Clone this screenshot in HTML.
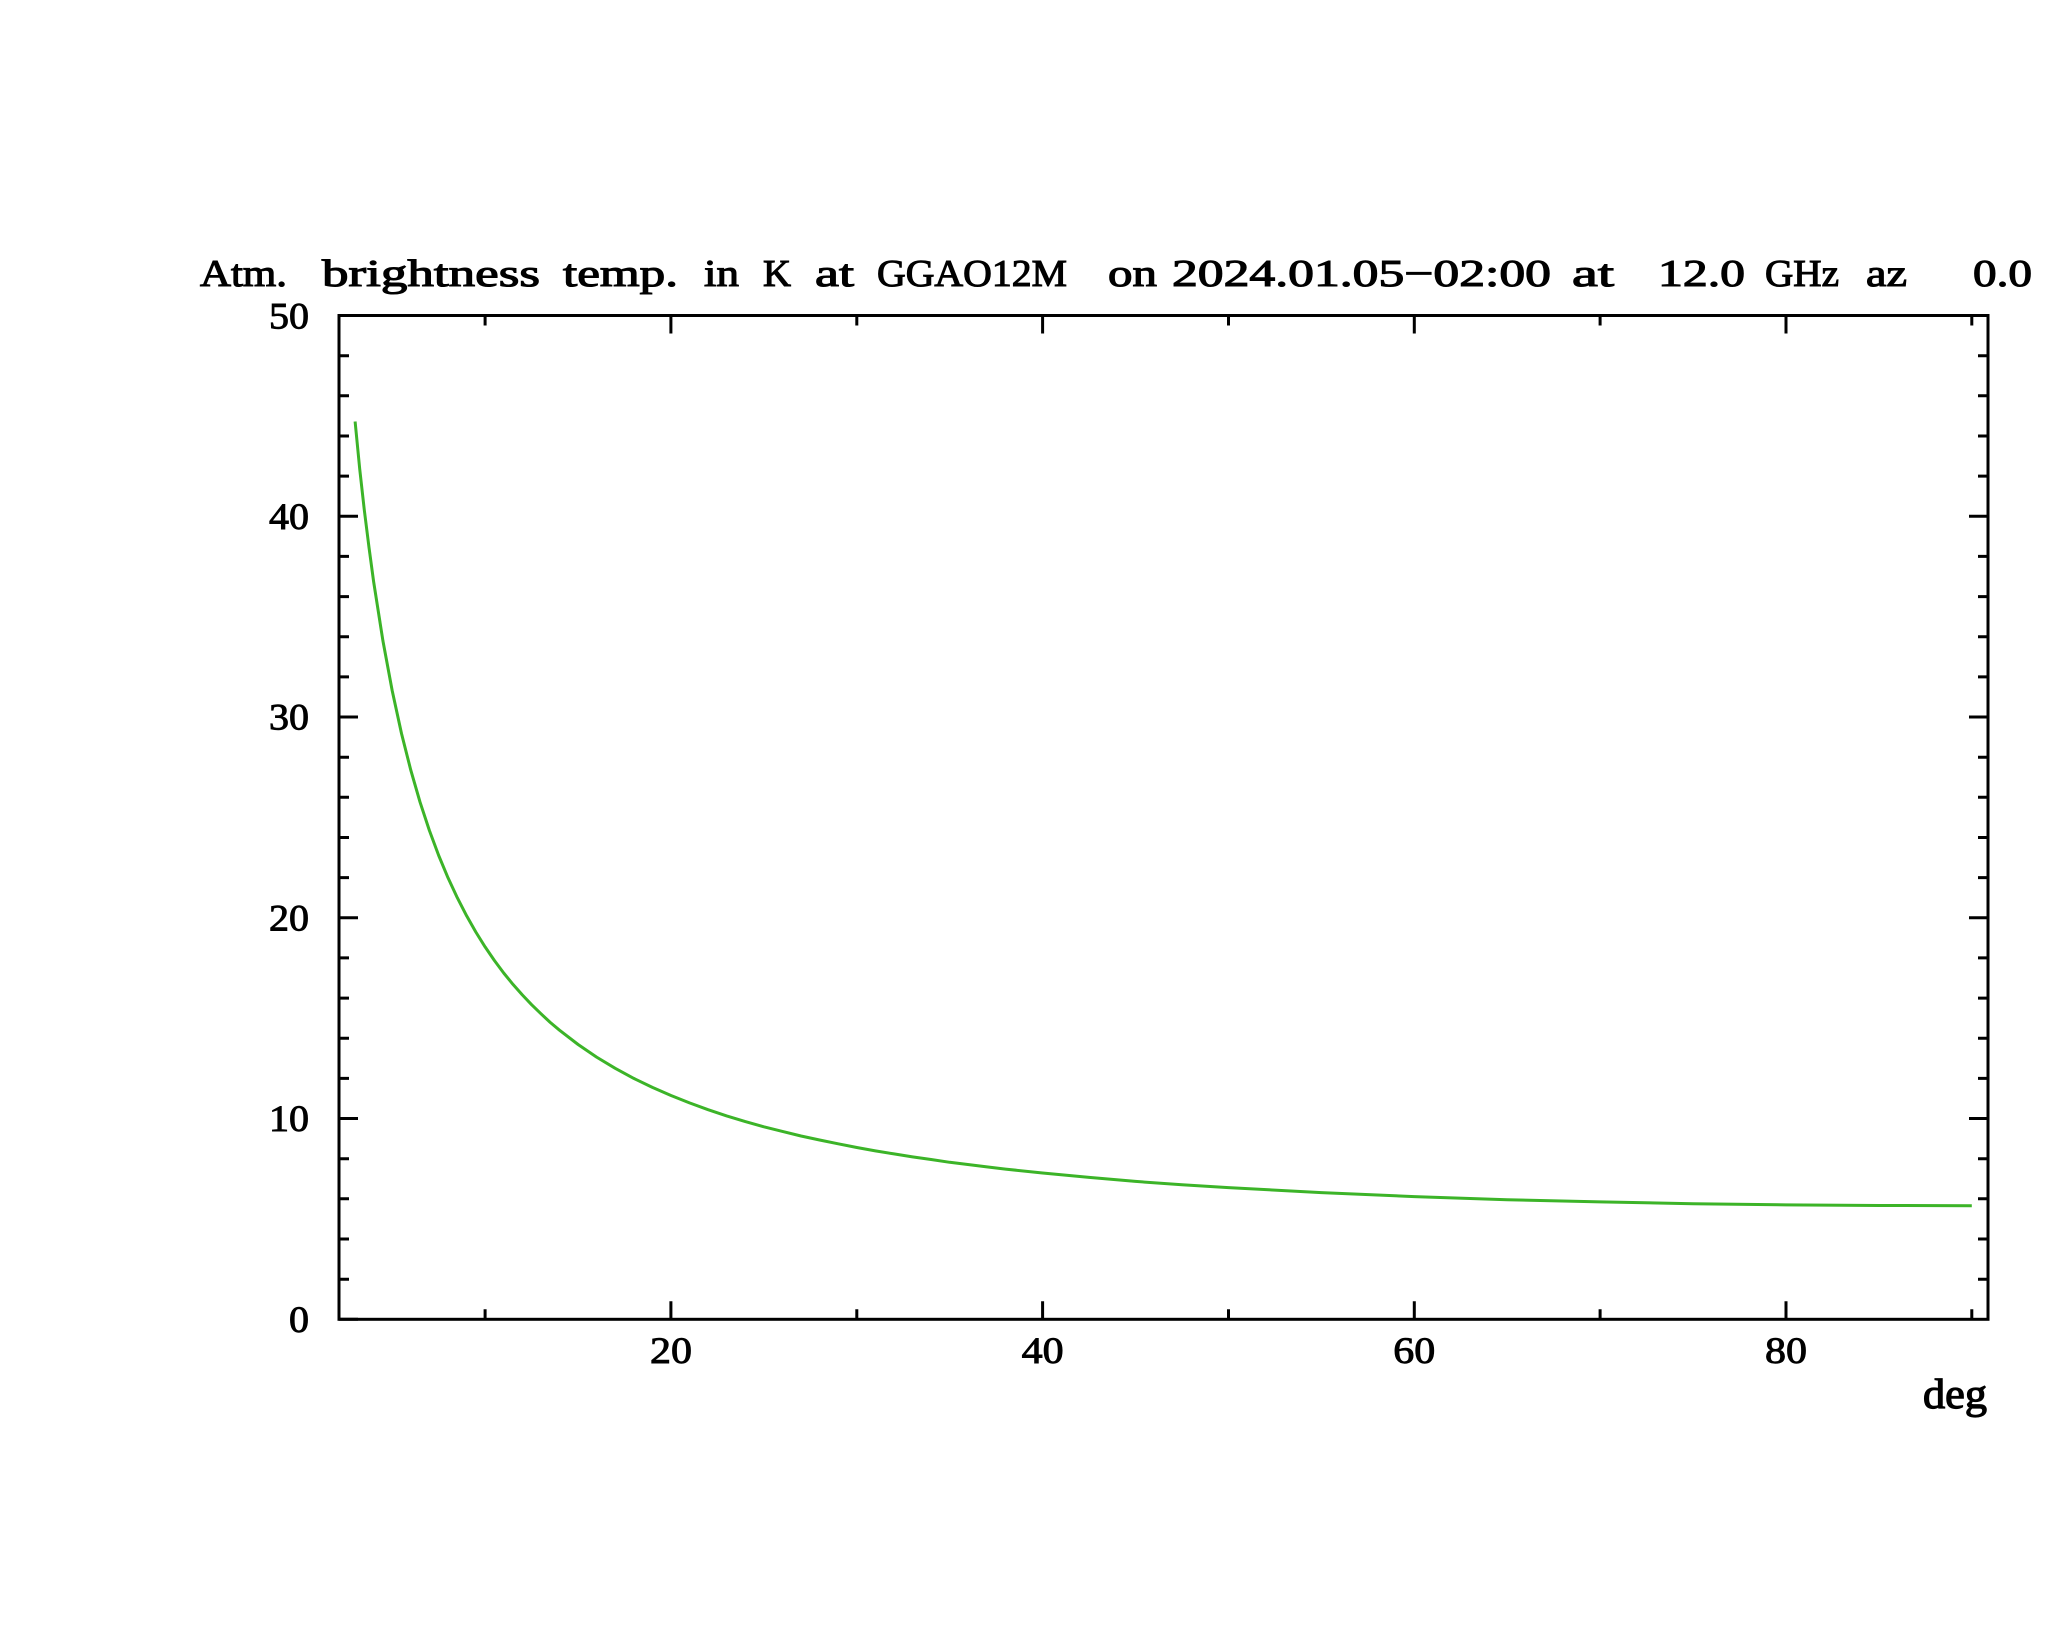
<!DOCTYPE html>
<html>
<head>
<meta charset="utf-8">
<style>
  html, body { margin: 0; padding: 0; background: #ffffff; }
  svg { display: block; }
  text { font-family: "Liberation Serif", "DejaVu Serif", serif; fill: #000; }
</style>
</head>
<body>
<svg width="2048" height="1635" viewBox="0 0 2048 1635" xmlns="http://www.w3.org/2000/svg">
  <rect x="0" y="0" width="2048" height="1635" fill="#ffffff"/>

  <!-- Title -->
  <g font-size="38" stroke="#000" stroke-width="1.1">
    <text x="200" y="286" textLength="87" lengthAdjust="spacingAndGlyphs">Atm.</text>
    <text x="322" y="286" textLength="218" lengthAdjust="spacingAndGlyphs">brightness</text>
    <text x="563" y="286" textLength="115" lengthAdjust="spacingAndGlyphs">temp.</text>
    <text x="704" y="286" textLength="35" lengthAdjust="spacingAndGlyphs">in</text>
    <text x="763" y="286" textLength="28" lengthAdjust="spacingAndGlyphs">K</text>
    <text x="815" y="286" textLength="39" lengthAdjust="spacingAndGlyphs">at</text>
    <text x="877" y="286" textLength="190" lengthAdjust="spacingAndGlyphs">GGAO12M</text>
    <text x="1108" y="286" textLength="49" lengthAdjust="spacingAndGlyphs">on</text>
    <text x="1172" y="286" textLength="379" lengthAdjust="spacingAndGlyphs">2024.01.05−02:00</text>
    <text x="1572" y="286" textLength="42" lengthAdjust="spacingAndGlyphs">at</text>
    <text x="1658" y="286" textLength="87" lengthAdjust="spacingAndGlyphs">12.0</text>
    <text x="1765" y="286" textLength="74" lengthAdjust="spacingAndGlyphs">GHz</text>
    <text x="1866" y="286" textLength="41" lengthAdjust="spacingAndGlyphs">az</text>
    <text x="1973" y="286" textLength="59" lengthAdjust="spacingAndGlyphs">0.0</text>
  </g>

  <!-- Curve -->
  <polyline fill="none" stroke="rgb(60,180,40)" stroke-width="3" stroke-linejoin="round" stroke-linecap="butt"
    points="355.1,421.5 359.7,468.9 364.3,510.0 369.0,547.4 373.6,581.5 382.9,640.7 392.2,690.7 401.5,733.5 410.8,770.2 420.1,802.3 429.4,830.5 438.7,855.5 448.0,877.8 457.3,897.7 466.6,915.8 475.8,932.0 485.1,946.9 494.4,960.5 503.7,973.0 513.0,984.4 522.3,994.9 531.6,1004.7 540.9,1013.7 550.2,1022.4 559.5,1030.2 578.1,1044.5 596.6,1057.1 615.2,1068.3 633.8,1078.4 652.4,1087.4 671.0,1095.5 689.5,1102.9 708.1,1109.7 726.7,1115.9 745.3,1121.6 763.9,1126.8 782.5,1131.4 801.0,1136.0 819.6,1140.0 838.2,1143.8 856.8,1147.5 875.4,1150.9 894.0,1153.9 912.5,1156.9 931.1,1159.5 949.7,1162.3 986.9,1166.9 1005.5,1169.1 1042.6,1173.0 1089.1,1177.4 1135.5,1181.4 1182.0,1184.8 1228.5,1187.6 1321.4,1192.6 1414.3,1196.6 1507.2,1199.7 1600.1,1201.9 1693.0,1203.7 1785.9,1204.9 1878.9,1205.5 1971.8,1205.7"/>

  <!-- Frame -->
  <rect x="339" y="315.5" width="1649" height="1003.8" fill="none" stroke="#000" stroke-width="3"/>

  <!-- Ticks -->
  <path fill="none" stroke="#000" stroke-width="3" d="
    M339 1279.2h10 M339 1239.0h10 M339 1198.8h10 M339 1158.7h10
    M339 1078.4h10 M339 1038.2h10 M339 998.1h10 M339 957.9h10
    M339 877.6h10 M339 837.5h10 M339 797.3h10 M339 757.2h10
    M339 676.9h10 M339 636.7h10 M339 596.6h10 M339 556.4h10
    M339 476.1h10 M339 436.0h10 M339 395.8h10 M339 355.7h10
    M339 1118.5h19 M339 917.8h19 M339 717.0h19 M339 516.3h19 M339 315.5h19 M339 1319.3h19
    M1988 1279.2h-10 M1988 1239.0h-10 M1988 1198.8h-10 M1988 1158.7h-10
    M1988 1078.4h-10 M1988 1038.2h-10 M1988 998.1h-10 M1988 957.9h-10
    M1988 877.6h-10 M1988 837.5h-10 M1988 797.3h-10 M1988 757.2h-10
    M1988 676.9h-10 M1988 636.7h-10 M1988 596.6h-10 M1988 556.4h-10
    M1988 476.1h-10 M1988 436.0h-10 M1988 395.8h-10 M1988 355.7h-10
    M1988 1118.5h-19 M1988 917.8h-19 M1988 717.0h-19 M1988 516.3h-19
    M485.1 1319.3v-10 M856.8 1319.3v-10 M1228.5 1319.3v-10 M1600.1 1319.3v-10 M1971.8 1319.3v-10
    M670.9 1319.3v-18 M1042.6 1319.3v-18 M1414.3 1319.3v-18 M1786.0 1319.3v-18
    M485.1 315.5v10 M856.8 315.5v10 M1228.5 315.5v10 M1600.1 315.5v10 M1971.8 315.5v10
    M670.9 315.5v18 M1042.6 315.5v18 M1414.3 315.5v18 M1786.0 315.5v18
  "/>

  <!-- Y tick labels -->
  <g font-size="37" stroke="#000" stroke-width="0.9">
    <text x="269" y="328.5" textLength="40" lengthAdjust="spacingAndGlyphs">50</text>
    <text x="269" y="529" textLength="40" lengthAdjust="spacingAndGlyphs">40</text>
    <text x="269" y="729.5" textLength="40" lengthAdjust="spacingAndGlyphs">30</text>
    <text x="269" y="930.5" textLength="40" lengthAdjust="spacingAndGlyphs">20</text>
    <text x="269" y="1131" textLength="40" lengthAdjust="spacingAndGlyphs">10</text>
    <text x="289" y="1332" textLength="20" lengthAdjust="spacingAndGlyphs">0</text>
  </g>

  <!-- X tick labels -->
  <g font-size="37" stroke="#000" stroke-width="0.9">
    <text x="650" y="1363" textLength="42" lengthAdjust="spacingAndGlyphs">20</text>
    <text x="1021.6" y="1363" textLength="42" lengthAdjust="spacingAndGlyphs">40</text>
    <text x="1393.3" y="1363" textLength="42" lengthAdjust="spacingAndGlyphs">60</text>
    <text x="1765" y="1363" textLength="42" lengthAdjust="spacingAndGlyphs">80</text>
  </g>

  <!-- X axis label -->
  <text x="1923" y="1408" font-size="42" stroke="#000" stroke-width="1.2" textLength="64" lengthAdjust="spacingAndGlyphs">deg</text>
</svg>
</body>
</html>
